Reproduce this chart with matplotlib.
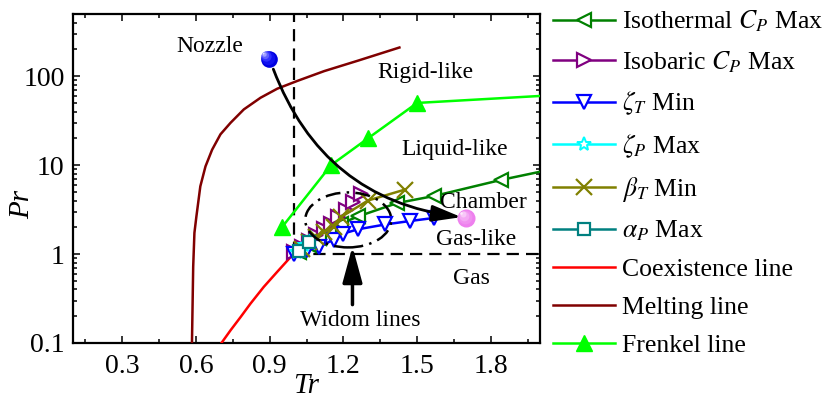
import numpy as np
import matplotlib
matplotlib.use('Agg')
import matplotlib.pyplot as plt
from matplotlib import ticker, transforms
from matplotlib.patches import Ellipse

plt.rcParams['font.family'] = ['Liberation Serif', 'DejaVu Serif']
plt.rcParams['mathtext.fontset'] = 'stix'

# Widom lines
iso_t_tr = [1.02, 1.06, 1.10, 1.14, 1.19, 1.26, 1.42, 1.57, 1.84, 2.05]
iso_t_pr = [1.05, 1.25, 1.50, 1.85, 2.20, 2.65, 3.75, 4.50, 6.80, 9.00]

iso_b_tr = [1.00, 1.03, 1.06, 1.09, 1.12, 1.15, 1.18, 1.21, 1.24, 1.27]
iso_b_pr = [1.05, 1.20, 1.40, 1.65, 1.90, 2.20, 2.60, 3.10, 3.80, 4.70]

zeta_t_tr = [1.00, 1.05, 1.10, 1.16, 1.20, 1.26, 1.37, 1.47, 1.57]
zeta_t_pr = [1.00, 1.10, 1.20, 1.45, 1.70, 1.90, 2.15, 2.35, 2.55]

zeta_p_tr = [1.01, 1.04, 1.07]
zeta_p_pr = [1.05, 1.25, 1.50]

beta_t_tr = [1.03, 1.06, 1.09, 1.12, 1.16, 1.19, 1.30, 1.45]
beta_t_pr = [1.15, 1.35, 1.55, 1.75, 2.00, 2.60, 4.00, 5.30]

alpha_p_tr = [1.02, 1.06]
alpha_p_pr = [1.09, 1.35]

# phase boundaries
coex_tr = [0.704, 0.741, 0.782, 0.822, 0.876, 0.931, 0.986, 1.0]
coex_pr = [0.1, 0.139, 0.196, 0.277, 0.427, 0.632, 0.93, 1.0]

melt_tr = [0.584, 0.589, 0.594, 0.602, 0.618, 0.639, 0.666, 0.70, 0.741, 0.795, 0.863,
           0.931, 1.013, 1.122, 1.258, 1.428]
melt_pr = [0.1, 0.72, 1.73, 2.64, 5.77, 9.67, 14.9, 22.2, 29.9, 42.3, 57.2,
           72.3, 88.5, 114, 149, 210]

frenkel_tr = [0.95, 1.15, 1.30, 1.50, 2.05]
frenkel_pr = [2.0, 10.0, 20.0, 50.0, 61.0]

nozzle = (0.897, 156)
chamber = (1.70, 2.53)

fig = plt.figure(figsize=(8.34, 4.0), dpi=100)
ax = fig.add_axes([73 / 834, 57 / 400, 467 / 834, 329 / 400])
ax.set_yscale('log')
ax.set_xlim(0.1, 2.0)
ax.set_ylim(0.1, 500)

ms = 10
ax.plot(iso_t_tr, iso_t_pr, color='#008000', marker='<', mfc='white', ms=ms, mew=1.6, lw=1.8,
        label='Isothermal $C_P$ Max', zorder=4)
ax.plot(iso_b_tr, iso_b_pr, color='#800080', marker='>', mfc='white', ms=ms, mew=1.6, lw=1.8,
        label='Isobaric $C_P$ Max', zorder=4)
ax.plot(zeta_t_tr, zeta_t_pr, color='#0000FF', marker='v', mfc='white', ms=ms, mew=1.6, lw=1.8,
        label=r'$\zeta_T$ Min', zorder=4)
ax.plot(zeta_p_tr, zeta_p_pr, color='#00FFFF', marker='*', mfc='white', ms=ms, mew=1.4, lw=1.8,
        label=r'$\zeta_P$ Max', zorder=4)
ax.plot(beta_t_tr, beta_t_pr, color='#808000', marker='x', ms=ms + 2, mew=1.6, lw=1.8,
        label=r'$\beta_T$ Min', zorder=5)
ax.plot(alpha_p_tr, alpha_p_pr, color='#008080', marker='s', mfc='white', ms=9, mew=1.6, lw=1.8,
        label=r'$\alpha_P$ Max', zorder=6)
ax.plot(coex_tr, coex_pr, color='#FF0000', lw=1.8, label='Coexistence line', zorder=3)
ax.plot(melt_tr, melt_pr, color='#800000', lw=1.8, label='Melting line', zorder=3)
ax.plot(frenkel_tr, frenkel_pr, color='#00FF00', marker='^', ms=ms + 1, lw=1.8,
        label='Frenkel line', zorder=3)

# Tr = 1 and Pr = 1 guides
ax.plot([1.0, 1.0], [1.0, 500], color='black', lw=1.6, ls=(0, (5.5, 3.2)), zorder=2)
ax.plot([1.0, 2.0], [1.0, 1.0], color='black', lw=1.6, ls=(0, (5.5, 3.2)), zorder=2)

# nozzle -> chamber path
ax.annotate('', xy=(1.68, 2.6), xytext=(0.915, 120),
            arrowprops=dict(arrowstyle='-|>,head_length=0.9,head_width=0.25',
                            connectionstyle='arc3,rad=0.3', color='black', lw=2,
                            mutation_scale=20, shrinkA=0, shrinkB=0), zorder=7)

# widom-line region
trans = fig.dpi_scale_trans + transforms.ScaledTranslation(1.22, 2.42, ax.transData)
ax.add_patch(Ellipse((0, 0), 0.86, 0.55, angle=0, transform=trans, fill=False,
                     ec='black', lw=1.8, ls=(0, (6, 2.5, 1, 2.5)), zorder=8))
ax.annotate('', xy=(1.237, 1.22), xytext=(1.237, 0.27),
            arrowprops=dict(arrowstyle='-|>,head_length=1.1,head_width=0.3', color='black',
                            lw=2.5, mutation_scale=20, shrinkA=0, shrinkB=0), zorder=7)

# spheres
def sphere(pt, colors, size):
    for i, c in enumerate(colors):
        s = size * (1 - i / len(colors)) ** 1.2
        off = transforms.offset_copy(ax.transData, fig=fig, x=-0.9 * i, y=0.9 * i, units='points')
        ax.plot(pt[0], pt[1], 'o', ms=s, color=c, mec='none', transform=off, zorder=9, clip_on=False)

sphere(nozzle, ['#0000E0', '#1010F0', '#3030FF', '#6060FF', '#A0A0FF', '#E0E0FF'], 12)
sphere(chamber, ['#EE80EE', '#F090F0', '#F4A8F4', '#F8C8F8', '#FCE8FC'], 13)

tfs = 17
ax.text(0.655, 218, 'Nozzle', fontsize=tfs, ha='center', va='center')
ax.text(1.533, 111, 'Rigid-like', fontsize=tfs, ha='center', va='center')
ax.text(1.651, 14.9, 'Liquid-like', fontsize=tfs, ha='center', va='center')
ax.text(1.769, 3.77, 'Chamber', fontsize=tfs, ha='center', va='center', zorder=10)
ax.text(1.74, 1.44, 'Gas-like', fontsize=tfs, ha='center', va='center')
ax.text(1.72, 0.536, 'Gas', fontsize=tfs, ha='center', va='center')
ax.text(1.267, 0.18, 'Widom lines', fontsize=tfs, ha='center', va='center')

ax.xaxis.set_major_locator(ticker.MultipleLocator(0.3))
ax.xaxis.set_minor_locator(ticker.MultipleLocator(0.15))
ax.xaxis.set_major_formatter(ticker.FormatStrFormatter('%.1f'))
ax.yaxis.set_major_locator(ticker.LogLocator(base=10))
ax.yaxis.set_minor_locator(ticker.LogLocator(base=10, subs=np.arange(2, 10)))
ax.yaxis.set_major_formatter(ticker.FuncFormatter(lambda v, p: '%g' % v))
ax.yaxis.set_minor_formatter(ticker.NullFormatter())
ax.tick_params(which='both', direction='in', top=True, right=True, labelsize=20, width=1.1)
ax.tick_params(which='major', length=5)
ax.tick_params(which='minor', length=3)
ax.tick_params(axis='x', pad=8)
ax.tick_params(axis='y', pad=6)
for sp in ax.spines.values():
    sp.set_linewidth(1.6)

ax.set_xlabel('Tr', fontsize=21, style='italic')
ax.set_ylabel('Pr', fontsize=21, style='italic')
ax.xaxis.set_label_coords(0.5, -0.092)
ax.yaxis.set_label_coords(-0.081, 0.42)

ax.legend(loc='upper left', bbox_to_anchor=(0.663, 0.978), bbox_transform=fig.transFigure,
          frameon=False, fontsize=18.5, numpoints=1, handlelength=2.4, handletextpad=0.3,
          labelspacing=0.58, borderpad=0, borderaxespad=0)

fig.savefig('out.png', dpi=100)
